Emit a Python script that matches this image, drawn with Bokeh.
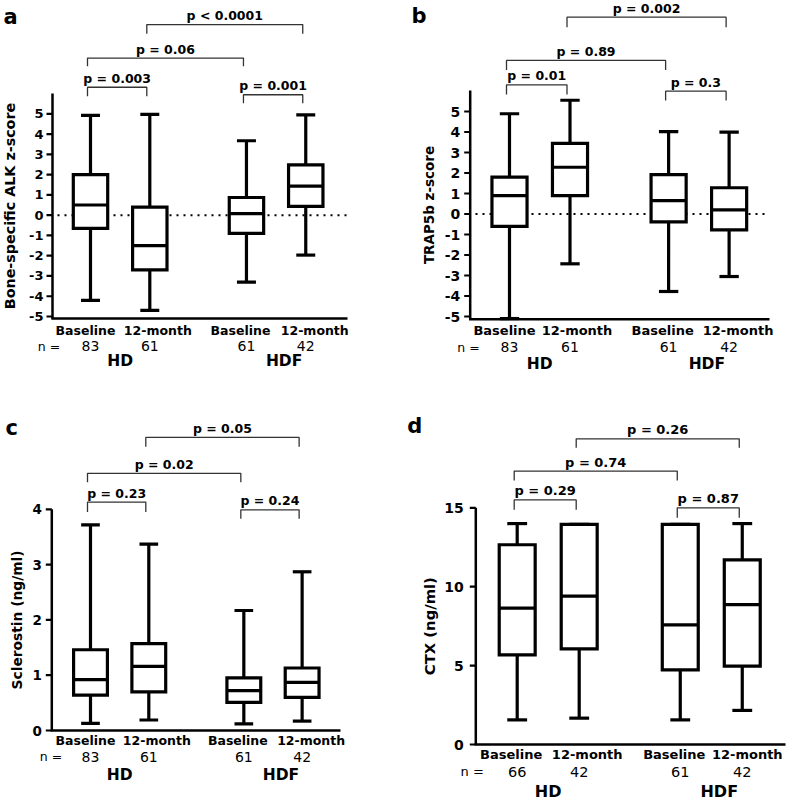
import math
from bokeh.plotting import figure
from bokeh.models import Range1d, ColumnDataSource
from bokeh.layouts import column, row
from bokeh.embed import file_html
from bokeh.resources import INLINE
from bokeh.core.properties import value

FONT = "DejaVu Sans"

# ---------------- data ----------------
categories = ["Baseline", "12-month", "Baseline", "12-month"]
groups = ["HD", "HDF"]
pairs = [(0, 1), (0, 2), (1, 3), (2, 3)]

# a: Bone-specific ALK z-score
alk_hi = [4.92, 4.97, 3.67, 4.95]
alk_q3 = [2.0, 0.4, 0.87, 2.48]
alk_med = [0.5, -1.5, 0.08, 1.43]
alk_q1 = [-0.65, -2.7, -0.9, 0.43]
alk_lo = [-4.2, -4.7, -3.3, -1.97]
alk_n = ["83", "61", "61", "42"]
alk_p = ["p = 0.003", "p = 0.06", "p < 0.0001", "p = 0.001"]
alk_ticks = [-5, -4, -3, -2, -1, 0, 1, 2, 3, 4, 5]

# b: TRAP5b z-score
trap_hi = [4.89, 5.55, 4.02, 3.99]
trap_q3 = [1.8, 3.45, 1.92, 1.28]
trap_med = [0.9, 2.28, 0.65, 0.2]
trap_q1 = [-0.6, 0.9, -0.38, -0.77]
trap_lo = [-5.1, -2.43, -3.78, -3.05]
trap_n = ["83", "61", "61", "42"]
trap_p = ["p = 0.01", "p = 0.89", "p = 0.002", "p = 0.3"]
trap_ticks = [-5, -4, -3, -2, -1, 0, 1, 2, 3, 4, 5]

# c: Sclerostin (ng/ml)
scl_hi = [3.72, 3.37, 2.17, 2.87]
scl_q3 = [1.46, 1.57, 0.95, 1.13]
scl_med = [0.92, 1.16, 0.72, 0.87]
scl_q1 = [0.64, 0.70, 0.51, 0.60]
scl_lo = [0.13, 0.19, 0.12, 0.17]
scl_n = ["83", "61", "61", "42"]
scl_p = ["p = 0.23", "p = 0.02", "p = 0.05", "p = 0.24"]
scl_ticks = [0, 1, 2, 3, 4]

# d: CTX (ng/ml)
ctx_hi = [14.0, 13.95, 13.95, 14.0]
ctx_q3 = [12.66, 13.95, 13.95, 11.7]
ctx_med = [8.64, 9.4, 7.58, 8.87]
ctx_q1 = [5.68, 6.06, 4.73, 4.97]
ctx_lo = [1.56, 1.67, 1.56, 2.16]
ctx_n = ["66", "42", "61", "42"]
ctx_p = ["p = 0.29", "p = 0.74", "p = 0.26", "p = 0.87"]
ctx_ticks = [0, 5, 10, 15]

# ---------------- layout / style (screen pixels) ----------------
POS = [1.0, 2.0, 3.63, 4.63]
BOX_W = 0.58
CAP_W = 0.32
HDF_DX = 8

LAYOUT = {
    "a": dict(origin=(0, 0), size=(393, 392), axis_px=52, box1_px=90, ux=59.3,
              yref=(5, 113.3), uy=20.27, bounds=(-5.1, 6.0),
              xaxis_end=347, zero=(57, 347), rows=(330, 345.7, 360.7), neq=48.5,
              cat_dx=[-5, 8, -6, 9],
              label_px=9, tick_gap=9, bar=[6.31, 7.75, 9.4, 5.94], tip=[5.87, 7.35, 8.95, 5.52],
              letter=(3, 16), fs=dict(tick=13, cat=12.5, n=14, grp=15.5, p=12.5, lab=14.3)),
    "b": dict(origin=(393, 0), size=(393, 392), axis_px=469.7, box1_px=509, ux=60.5,
              yref=(5, 111), uy=20.5, bounds=(-5.14, 6.02),
              xaxis_end=769, zero=(475, 769), rows=(330, 346.7, 363), neq=468,
              cat_dx=[-5, 7, -6, 9],
              label_px=428, tick_gap=10, bar=[6.3, 7.49, 9.6, 5.99], tip=[5.83, 7.03, 9.11, 5.54],
              letter=(411, 15), fs=dict(tick=14, cat=13, n=14, grp=15.5, p=12.5, lab=13.5)),
    "c": dict(origin=(0, 392), size=(393, 410), axis_px=51.3, box1_px=90, ux=58.3,
              yref=(0, 730), uy=55.3, bounds=(0, 4),
              xaxis_end=340, zero=None, rows=(740, 756, 774), neq=50.5,
              cat_dx=[-5, 8, -6, 9],
              label_px=16, tick_gap=10, bar=[4.13, 4.65, 5.3, 3.99], tip=[3.95, 4.49, 5.13, 3.83],
              letter=(5, 427.5), fs=dict(tick=13.5, cat=12.5, n=14, grp=15.5, p=12.5, lab=13.8)),
    "d": dict(origin=(393, 392), size=(393, 410), axis_px=475.3, box1_px=516.7, ux=62,
              yref=(0, 744), uy=15.78, bounds=(0, 15),
              xaxis_end=785, zero=None, rows=(754.3, 771, 791), neq=471.7,
              cat_dx=[-6, 8, -6, 5],
              label_px=428.5, tick_gap=12, bar=[15.5, 17.33, 19.37, 15.0],
              tip=[14.87, 16.73, 18.8, 14.37],
              letter=(406.7, 425), fs=dict(tick=14, cat=13, n=14.5, grp=16, p=13, lab=14.8)),
}


def txt(p, x, y, text, size, bold=True, align="center", angle=0.0):
    p.text(x=x, y=y, text=text, angle=angle, text_font=value(FONT),
           text_font_style="bold" if bold else "normal", text_font_size=f"{size}px",
           text_align=align, text_baseline="middle", text_color="black")


def build(key, stats, n_vals, p_texts, ticks, ylabel):
    L = LAYOUT[key]
    hi, q3, med, q1, lo = stats
    ox, oy = L["origin"]
    W, H = L["size"]
    b1, ux = L["box1_px"], L["ux"]
    yv, ypx = L["yref"]
    uy = L["uy"]
    fs = L["fs"]

    def xd(px):
        return POS[0] + (px - b1) / ux

    def yd(py):
        return yv - (py - ypx) / uy

    p = figure(width=W, height=H, title=None,
               x_range=Range1d(xd(ox), xd(ox + W)),
               y_range=Range1d(yd(oy + H), yd(oy)),
               x_axis_type=None, y_axis_type=None,
               output_backend="svg", toolbar_location=None, min_border=0,
               outline_line_color=None, background_fill_color="white",
               border_fill_color="white")
    p.grid.visible = False

    # ---- y axis (drawn in data space) ----
    b0, b1v = L["bounds"]
    ax_x = xd(L["axis_px"])
    p.segment(x0=[ax_x], y0=[b0], x1=[ax_x], y1=[b1v], line_color="black", line_width=2.5)
    p.segment(x0=[xd(L["axis_px"] - 6)] * len(ticks), y0=ticks,
              x1=[ax_x] * len(ticks), y1=ticks, line_color="black", line_width=2.2)
    txt(p, [xd(L["axis_px"] - L["tick_gap"])] * len(ticks), ticks, [str(t) for t in ticks],
        fs["tick"], align="right")
    txt(p, [xd(L["label_px"])], [(b0 + b1v) / 2], [ylabel], fs["lab"], angle=math.pi / 2)

    # ---- x axis line ----
    p.segment(x0=[xd(L["axis_px"] - 1.2)], y0=[b0], x1=[xd(L["xaxis_end"])], y1=[b0],
              line_color="black", line_width=2.5)

    # ---- zero reference line ----
    if L["zero"]:
        p.segment(x0=[xd(L["zero"][0])], y0=[0], x1=[xd(L["zero"][1])], y1=[0],
                  line_color="black", line_width=2, line_dash="2 5")

    # ---- box plots ----
    src = ColumnDataSource(dict(
        x=POS, hi=hi, q3=q3, med=med, q1=q1, lo=lo,
        left=[x - BOX_W / 2 for x in POS], right=[x + BOX_W / 2 for x in POS],
        cl=[x - CAP_W / 2 for x in POS], cr=[x + CAP_W / 2 for x in POS]))
    lw = 3.2
    p.segment(x0="x", y0="q3", x1="x", y1="hi", source=src, line_color="black", line_width=lw)
    p.segment(x0="x", y0="q1", x1="x", y1="lo", source=src, line_color="black", line_width=lw)
    p.segment(x0="cl", y0="hi", x1="cr", y1="hi", source=src, line_color="black", line_width=lw)
    p.segment(x0="cl", y0="lo", x1="cr", y1="lo", source=src, line_color="black", line_width=lw)
    p.quad(left="left", right="right", top="q3", bottom="q1", source=src,
           fill_color="white", line_color="black", line_width=lw, line_join="miter")
    p.segment(x0="left", y0="med", x1="right", y1="med", source=src,
              line_color="black", line_width=lw)

    # ---- significance brackets ----
    off = -3 / ux
    xs, ys, lx, ly = [], [], [], []
    for k, (i, j) in enumerate(pairs):
        x0, x1 = POS[i] + off, POS[j] + off
        xs.append([x0, x0, x1, x1])
        ys.append([L["tip"][k], L["bar"][k], L["bar"][k], L["tip"][k]])
        lx.append((x0 + x1) / 2)
        ly.append(L["bar"][k] + 9 / uy)
    p.multi_line(xs=xs, ys=ys, line_color="#333333", line_width=1.3)
    txt(p, lx, ly, p_texts, fs["p"])

    # ---- category labels, n values, group labels ----
    r0, r1, r2 = L["rows"]
    cdx = L["cat_dx"]
    txt(p, [POS[i] + cdx[i] / ux for i in range(4)], [yd(r0)] * 4, categories, fs["cat"])
    txt(p, POS, [yd(r1)] * 4, n_vals, fs["n"], bold=False)
    txt(p, [xd(L["neq"])], [yd(r1)], ["n ="], fs["n"] - 1.5, bold=False)
    gx = [(POS[0] + POS[1]) / 2, (POS[2] + POS[3]) / 2 + HDF_DX / ux]
    txt(p, gx, [yd(r2)] * 2, groups, fs["grp"])

    # ---- panel letter ----
    txt(p, [xd(L["letter"][0])], [yd(L["letter"][1])], [key], 21, align="left")
    return p


pa = build("a", (alk_hi, alk_q3, alk_med, alk_q1, alk_lo), alk_n, alk_p, alk_ticks,
           "Bone-specific ALK z-score")
pb = build("b", (trap_hi, trap_q3, trap_med, trap_q1, trap_lo), trap_n, trap_p, trap_ticks,
           "TRAP5b z-score")
pc = build("c", (scl_hi, scl_q3, scl_med, scl_q1, scl_lo), scl_n, scl_p, scl_ticks,
           "Sclerostin (ng/ml)")
pd = build("d", (ctx_hi, ctx_q3, ctx_med, ctx_q1, ctx_lo), ctx_n, ctx_p, ctx_ticks,
           "CTX (ng/ml)")

layout = column(row(pa, pb), row(pc, pd))
open("out.html", "w").write(file_html(layout, INLINE))
